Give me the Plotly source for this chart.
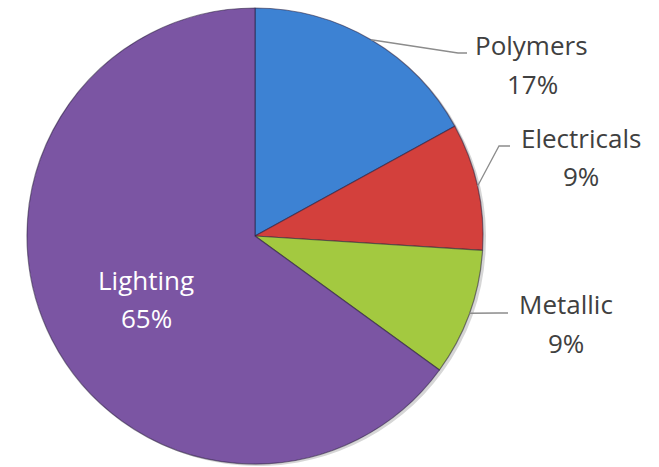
import math
import plotly.graph_objects as go

categories = ["Polymers", "Electricals", "Metallic", "Lighting"]
values = [17, 9, 9, 65]
colors = ["#3D82D3", "#D3403C", "#A3C940", "#7B55A3"]

W, H = 659, 467
CX, CY, R = 255, 236, 228  # pie centre / radius in pixels (layout)
FONT = "Open Sans"
FS = 26

def px(x):
    return min(1.0, max(0.0, x / W))

def py(y):
    return min(1.0, max(0.0, 1 - y / H))

fig = go.Figure()

# soft shadow
fig.add_trace(go.Pie(
    values=values, sort=False, direction="clockwise", rotation=0,
    marker=dict(colors=["rgba(0,0,0,0.16)"] * len(values), line=dict(width=0)),
    textinfo="none", hoverinfo="skip", showlegend=False,
    domain=dict(x=[px(CX - R + 3), px(CX + R + 3)], y=[py(CY + R + 2), py(CY - R + 2)]),
))

fig.add_trace(go.Pie(
    labels=categories, values=values, sort=False, direction="clockwise", rotation=0,
    marker=dict(colors=colors, line=dict(width=1.2, color="rgba(40,30,60,0.55)")),
    textinfo="none", showlegend=False,
    domain=dict(x=[px(CX - R), px(CX + R)], y=[py(CY + R), py(CY - R)]),
))

# label layout (pixels): name line centre, percent line centre, elbow point, line end
label_layout = {
    "Polymers":    dict(name=(531, 45),  pct=(532, 84),  elbow=(458, 53),  end=(467, 53)),
    "Electricals": dict(name=(581, 138), pct=(581, 176), elbow=(499, 146), end=(510, 146)),
    "Metallic":    dict(name=(566, 304), pct=(566, 343), elbow=(498, 313), end=(508, 313)),
    "Lighting":    dict(name=(146, 280), pct=(146, 318)),
}

total = sum(values)
cum = 0
for name, v in zip(categories, values):
    mid = (cum + v / 2) / total * 2 * math.pi
    cum += v
    pct = f"{round(v / total * 100)}%"
    lay = label_layout[name]
    inside = "elbow" not in lay
    color = "#FFFFFF" if inside else "#404040"
    if not inside:
        ex = CX + R * math.sin(mid)
        ey = CY - R * math.cos(mid)
        path = (f"M {px(ex)} {py(ey)} L {px(lay['elbow'][0])} {py(lay['elbow'][1])} "
                f"L {px(lay['end'][0])} {py(lay['end'][1])}")
        fig.add_shape(type="path", path=path, xref="paper", yref="paper",
                      line=dict(color="#8C8C8C", width=1.3))
    for txt, pos in ((name, lay["name"]), (pct, lay["pct"])):
        fig.add_annotation(x=px(pos[0]), y=py(pos[1]), xref="paper", yref="paper",
                           text=txt, showarrow=False,
                           font=dict(family=FONT, size=FS, color=color),
                           xanchor="center", yanchor="middle")

fig.update_layout(
    width=W, height=H, margin=dict(l=0, r=0, t=0, b=0),
    paper_bgcolor="white", plot_bgcolor="white",
)

fig.write_html("out.html", config={"displayModeBar": False},
               post_script="document.body.style.margin='0';")
